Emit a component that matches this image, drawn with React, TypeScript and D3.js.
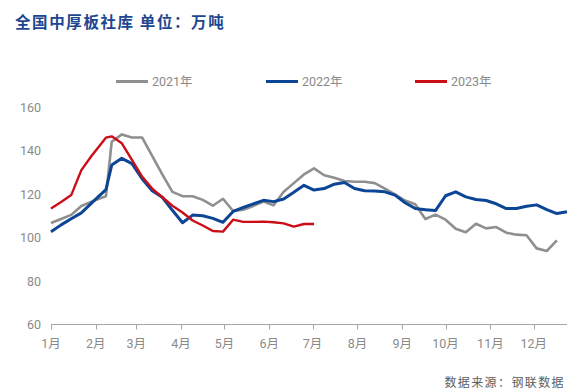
import React from "react";
import * as d3 from "d3";

const W = 587;
const H = 391;

// day-of-year offsets of the weekly observations (shared grid)
const dayOffsets = [
  0, 7, 14, 21, 28, 38, 42, 49, 56, 63, 70, 77, 84, 91, 98, 105, 112, 119, 126, 133,
  140, 147, 154, 161, 168, 175, 182, 189, 196, 203, 210, 217, 224, 231, 238, 245, 252,
  259, 266, 273, 280, 287, 294, 301, 308, 315, 322, 329, 336, 343, 350, 357,
];

const values2021 = [
  106.7, 108.5, 110.4, 114.5, 116.5, 119, 144, 147.4, 146, 146, 137.5, 129, 121, 119, 119,
  117.3, 114.6, 117.8, 112.2, 112.8, 114.5, 116.5, 114.8, 121, 125, 129, 131.8, 128.6,
  127.5, 126, 125.6, 125.6, 125, 122.5, 119.8, 117, 115.3, 108.5, 110.5, 108.2, 104,
  102.4, 106.3, 104.2, 104.8, 102.2, 101.3, 101, 95, 93.8, 98.7,
];

const values2022 = [
  102.6, 105.8, 108.6, 111.3, 115.8, 122, 133.3, 136.4, 134, 127, 121.5, 118.5, 112.5,
  106.8, 110.3, 110, 108.8, 107, 112, 113.8, 115.5, 117.1, 116.5, 117.7, 120.8, 124,
  121.8, 122.5, 124.5, 125.3, 122.5, 121.5, 121.4, 121, 119.5, 116, 113.3, 112.8, 112.4,
  119.2, 121, 118.7, 117.5, 117, 115.5, 113.3, 113.3, 114.4, 115, 112.8, 111, 111.8,
];

const values2023 = [
  113.3, 116.3, 119.5, 131, 137.5, 145.9, 146.5, 143.3, 135.7, 128, 122.5, 118.5, 114.6,
  111.5, 107.8, 105.5, 103, 102.7, 108.2, 107.2, 107.2, 107.3, 107, 106.5, 105, 106.2,
  106.2,
];

const seriesNames = ["2021年", "2022年", "2023年"];
const seriesColors = ["#8f8f8f", "#0c4595", "#cc0d17"];
const seriesWidths = [2.6, 3, 2.4];
const yTicks = [60, 80, 100, 120, 140, 160];

const title = "全国中厚板社库 单位：万吨";
const source = "数据来源：钢联数据";

const baseYear = 2022;
const toDate = (d: number) => d3.timeDay.offset(new Date(baseYear, 0, 1), d);

export default function App() {
  const x = d3
    .scaleTime()
    .domain([toDate(0), toDate(357)])
    .range([51, 567]);
  const y = d3.scaleLinear().domain([60, 160]).range([324.5, 107]);

  const allValues = [values2021, values2022, values2023];
  const line = d3
    .line<number>()
    .x((_, i) => x(toDate(dayOffsets[i])))
    .y((v) => y(v));

  const monthTicks = d3.timeMonth.range(new Date(baseYear, 0, 1), new Date(baseYear, 11, 2));

  const numFont = "Roboto, 'Noto Sans CJK SC', sans-serif";
  const cjkFont = "'Noto Sans CJK SC', sans-serif";

  const legendX = [116, 266, 415];

  return (
    <svg
      width={W}
      height={H}
      style={{ position: "absolute", left: 0, top: 0, background: "#fff" }}
    >
      <text
        x={15}
        y={28}
        fontFamily={cjkFont}
        fontWeight={700}
        fontSize={15.5}
        letterSpacing={1.6}
        fill="#1d4690"
      >
        {title}
      </text>

      {/* legend */}
      {seriesNames.map((name, k) => (
        <g key={name}>
          <line
            x1={legendX[k]}
            x2={legendX[k] + 32}
            y1={81.5}
            y2={81.5}
            stroke={seriesColors[k]}
            strokeWidth={3}
          />
          <text
            x={legendX[k] + 36}
            y={86}
            fontFamily={numFont}
            fontSize={12.5}
            fill="#8a8a8a"
          >
            {name}
          </text>
        </g>
      ))}

      {/* y tick labels */}
      {yTicks.map((t) => (
        <text
          key={t}
          x={41}
          y={y(t) + 4.5}
          textAnchor="end"
          fontFamily={numFont}
          fontSize={12.5}
          fill="#8a8a8a"
        >
          {t}
        </text>
      ))}

      {/* x axis */}
      <line x1={51} x2={567} y1={324.5} y2={324.5} stroke="#a6a6a6" strokeWidth={1} />
      {monthTicks.map((m) => (
        <g key={m.getMonth()}>
          <line
            x1={Math.round(x(m)) + 0.5}
            x2={Math.round(x(m)) + 0.5}
            y1={324.5}
            y2={329.5}
            stroke="#a6a6a6"
            strokeWidth={1}
          />
          <text
            x={x(m)}
            y={348}
            textAnchor="middle"
            fontFamily={numFont}
            fontSize={12.5}
            fill="#8a8a8a"
          >
            {m.getMonth() + 1 + "月"}
          </text>
        </g>
      ))}

      {/* series */}
      {allValues.map((vals, k) => (
        <path
          key={k}
          d={line(vals) || ""}
          fill="none"
          stroke={seriesColors[k]}
          strokeWidth={seriesWidths[k]}
          strokeLinejoin="round"
        />
      ))}

      <text
        x={565}
        y={387}
        textAnchor="end"
        fontFamily={cjkFont}
        fontSize={12}
        letterSpacing={1.4}
        fill="#5e5e5e"
      >
        {source}
      </text>
    </svg>
  );
}
